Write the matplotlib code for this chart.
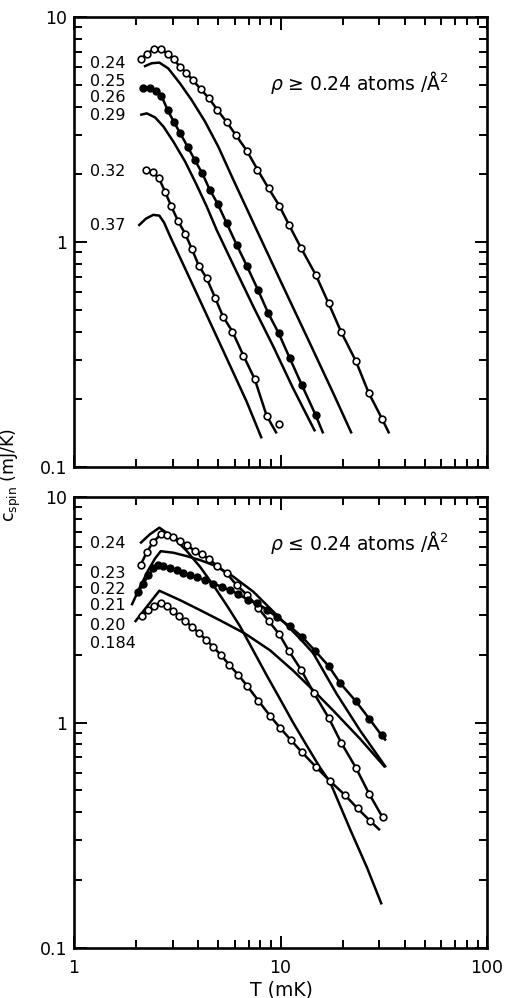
import matplotlib
matplotlib.use("Agg")
import matplotlib.pyplot as plt
from matplotlib.ticker import LogLocator, NullFormatter, FixedLocator, FixedFormatter

plt.rcParams['font.family'] = ['DejaVu Sans']
plt.rcParams['mathtext.fontset'] = 'dejavusans'

# ---------------- top panel (rho >= 0.24) ----------------
t024_T = [2.10, 2.25, 2.44, 2.65, 2.84, 3.04, 3.26, 3.49, 3.76, 4.11, 4.49, 4.95, 5.49,
          6.09, 6.86, 7.73, 8.76, 9.87, 11.0, 12.6, 14.8, 17.1, 19.7, 23.2, 26.7, 31.0]
t024_c = [6.48, 6.85, 7.21, 7.21, 6.85, 6.48, 6.01, 5.66, 5.25, 4.77, 4.37, 3.86, 3.41,
          2.98, 2.55, 2.10, 1.73, 1.45, 1.19, 0.937, 0.716, 0.534, 0.397, 0.295, 0.214, 0.164]
t024_tail_T = [33.6]
t024_tail_c = [0.141]

t025_T = [2.18, 2.38, 2.59, 2.86, 3.26, 3.71, 4.31, 5.0, 5.91, 7.67, 9.95, 13.4, 18.0, 22.1]
t025_c = [6.02, 6.23, 6.27, 5.91, 5.07, 4.28, 3.43, 2.65, 1.89, 1.13, 0.678, 0.380, 0.213, 0.141]

t026_T = [2.17, 2.33, 2.50, 2.65, 2.84, 3.04, 3.27, 3.55, 3.85, 4.18, 4.54, 4.96, 5.49,
          6.14, 6.86, 7.78, 8.73, 9.80, 11.1, 12.7, 14.8]
t026_c = [4.82, 4.82, 4.71, 4.47, 3.86, 3.43, 3.04, 2.65, 2.31, 2.02, 1.71, 1.48, 1.21,
          0.970, 0.785, 0.612, 0.482, 0.393, 0.304, 0.231, 0.170]
t026_tail_T = [16.1]
t026_tail_c = [0.141]

t029_T = [2.09, 2.25, 2.47, 2.71, 3.03, 3.45, 3.93, 4.39, 4.91, 5.91, 7.39, 9.23, 11.5, 14.7]
t029_c = [3.67, 3.73, 3.58, 3.26, 2.79, 2.28, 1.79, 1.44, 1.13, 0.790, 0.516, 0.343, 0.224, 0.144]

t032_T = [2.22, 2.40, 2.58, 2.77, 2.96, 3.19, 3.45, 3.73, 4.02, 4.39, 4.82, 5.27, 5.85,
          6.61, 7.50, 8.57, 9.80]
t032_c = [2.09, 2.05, 1.92, 1.66, 1.44, 1.24, 1.09, 0.928, 0.785, 0.690, 0.566, 0.466,
          0.400, 0.313, 0.246, 0.169, 0.155]
t032_line_T = [2.22, 2.40, 2.58, 2.77, 2.96, 3.19, 3.45, 3.73, 4.02, 4.39, 4.82, 5.27, 5.85,
               6.61, 7.50, 8.57, 9.58]
t032_line_c = [2.09, 2.05, 1.92, 1.66, 1.44, 1.24, 1.09, 0.928, 0.785, 0.690, 0.566, 0.466,
               0.400, 0.313, 0.246, 0.169, 0.141]

t037_T = [2.05, 2.23, 2.42, 2.59, 2.73, 2.92, 3.51, 4.39, 5.49, 6.86, 8.11]
t037_c = [1.18, 1.27, 1.32, 1.31, 1.22, 1.06, 0.738, 0.474, 0.304, 0.195, 0.134]

top_labels = ['0.24', '0.25', '0.26', '0.29', '0.32', '0.37']
top_label_y = [63, 81, 97, 116, 172, 226]

# ---------------- bottom panel (rho <= 0.24) ----------------
b024_T = [2.09, 2.33, 2.59, 3.03, 3.51, 4.08, 4.73, 5.49, 6.37, 7.39, 8.57, 9.95, 11.5,
          13.4, 15.5, 17.4, 21.7, 26.2, 30.9]
b024_c = [6.23, 6.83, 7.31, 6.62, 5.77, 4.90, 4.06, 3.31, 2.67, 2.08, 1.62, 1.27, 1.00,
          0.790, 0.633, 0.543, 0.337, 0.228, 0.156]

b023_T = [2.10, 2.25, 2.42, 2.65, 2.83, 3.03, 3.26, 3.54, 3.85, 4.15, 4.51, 4.95, 5.49,
          6.14, 6.91, 7.78, 8.76, 9.87, 11.0, 12.6, 14.5, 17.1, 19.7, 23.2, 26.9, 31.2]
b023_c = [4.99, 5.68, 6.33, 6.85, 6.78, 6.62, 6.38, 6.12, 5.75, 5.56, 5.30, 4.94, 4.58,
          4.06, 3.67, 3.23, 2.82, 2.46, 2.07, 1.71, 1.35, 1.05, 0.812, 0.629, 0.482, 0.380]

bA_T = [1.90, 2.09, 2.29, 2.47, 2.63, 3.03, 3.51, 4.08, 4.73, 5.69, 7.39, 9.58, 12.4,
        14.4, 18.7, 24.3, 32.4]
bA_c = [3.31, 4.00, 4.74, 5.34, 5.75, 5.66, 5.47, 5.25, 4.99, 4.55, 3.80, 3.00, 2.36,
        2.03, 1.34, 0.921, 0.633]

b022_T = [2.05, 2.17, 2.29, 2.42, 2.56, 2.71, 2.92, 3.14, 3.38, 3.65, 3.93, 4.31, 4.73,
          5.19, 5.69, 6.25, 6.99, 7.67, 8.57, 9.58, 11.1, 12.7, 14.7, 17.1, 19.4, 23.2,
          26.9, 30.9]
b022_c = [3.80, 4.13, 4.50, 4.82, 4.99, 4.94, 4.82, 4.74, 4.61, 4.50, 4.40, 4.28, 4.13,
          4.00, 3.86, 3.71, 3.49, 3.39, 3.17, 2.94, 2.67, 2.40, 2.08, 1.78, 1.50, 1.24,
          1.04, 0.876]
b022_tail_T = [32.4]
b022_tail_c = [0.832]

bB_T = [1.97, 2.25, 2.59, 3.26, 4.08, 5.09, 6.73, 8.90, 11.5, 14.4, 18.0, 24.3, 32.1]
bB_c = [2.79, 3.26, 3.84, 3.49, 3.15, 2.84, 2.48, 2.09, 1.70, 1.39, 1.13, 0.846, 0.633]

b0184_T = [2.13, 2.27, 2.44, 2.63, 2.81, 3.00, 3.22, 3.46, 3.73, 4.02, 4.36, 4.73, 5.15,
           5.65, 6.23, 6.91, 7.81, 8.90, 9.95, 11.2, 12.7, 14.9, 17.4, 20.5, 23.6, 27.1]
b0184_c = [2.96, 3.15, 3.29, 3.40, 3.28, 3.13, 2.97, 2.82, 2.65, 2.50, 2.33, 2.16, 1.99,
           1.80, 1.63, 1.45, 1.25, 1.07, 0.947, 0.838, 0.738, 0.633, 0.549, 0.477, 0.416,
           0.367]
b0184_tail_T = [30.3]
b0184_tail_c = [0.333]

bot_labels = ['0.24', '0.23', '0.22', '0.21', '0.20', '0.184']
bot_label_y = [543, 574, 589, 606, 625, 644]

xticks = [1, 10, 100]
xtick_labels = ['1', '10', '100']
yticks = [0.1, 1, 10]
ytick_labels = ['0.1', '1', '10']

# ---------------- figure ----------------
W, H = 511, 998
fig = plt.figure(figsize=(W / 100, H / 100), dpi=100)
fig.patch.set_facecolor('white')

def px_axes(l, t, r, b):
    return fig.add_axes([l / W, 1 - b / H, (r - l) / W, (b - t) / H])

ax1 = px_axes(74, 17, 487, 467)
ax2 = px_axes(74, 497, 487, 948)

LW = 1.8
MS = 4.8
def line(ax, T, c):
    ax.plot(T, c, '-', color='black', lw=LW, solid_capstyle='butt',
            solid_joinstyle='round', zorder=2)

def pts(ax, T, c, filled):
    ax.plot(T, c, 'o', ms=MS, mew=1.2, mec='black',
            mfc='black' if filled else 'white', zorder=3)

# top panel
line(ax1, t024_T + t024_tail_T, t024_c + t024_tail_c)
pts(ax1, t024_T, t024_c, False)
line(ax1, t025_T, t025_c)
line(ax1, t026_T + t026_tail_T, t026_c + t026_tail_c)
pts(ax1, t026_T, t026_c, True)
line(ax1, t029_T, t029_c)
line(ax1, t032_line_T, t032_line_c)
pts(ax1, t032_T, t032_c, False)
line(ax1, t037_T, t037_c)

# bottom panel
line(ax2, b024_T, b024_c)
line(ax2, b023_T, b023_c)
pts(ax2, b023_T, b023_c, False)
line(ax2, bA_T, bA_c)
line(ax2, b022_T + b022_tail_T, b022_c + b022_tail_c)
pts(ax2, b022_T, b022_c, True)
line(ax2, bB_T, bB_c)
line(ax2, b0184_T + b0184_tail_T, b0184_c + b0184_tail_c)
pts(ax2, b0184_T, b0184_c, False)

for ax in (ax1, ax2):
    ax.set_xscale('log')
    ax.set_yscale('log')
    ax.set_xlim(1, 100)
    ax.set_ylim(0.1, 10)
    ax.xaxis.set_major_locator(FixedLocator(xticks))
    ax.yaxis.set_major_locator(FixedLocator(yticks))
    ax.xaxis.set_minor_locator(LogLocator(base=10, subs=range(2, 10)))
    ax.yaxis.set_minor_locator(LogLocator(base=10, subs=range(2, 10)))
    ax.xaxis.set_minor_formatter(NullFormatter())
    ax.yaxis.set_minor_formatter(NullFormatter())
    ax.yaxis.set_major_formatter(FixedFormatter(ytick_labels))
    ax.tick_params(which='both', direction='in', top=True, right=True, width=1.4,
                   labelsize=12.5, pad=5)
    ax.tick_params(which='major', length=9)
    ax.tick_params(which='minor', length=5.5)
    for s in ax.spines.values():
        s.set_linewidth(1.9)

ax1.xaxis.set_major_formatter(NullFormatter())
ax2.xaxis.set_major_formatter(FixedFormatter(xtick_labels))
ax2.tick_params(axis='x', pad=8)

def lab(y_px, text):
    fig.text(90 / W, 1 - y_px / H, text, fontsize=11.5, ha='left', va='center')

for s, y in zip(top_labels, top_label_y):
    lab(y, s)
for s, y in zip(bot_labels, bot_label_y):
    lab(y, s)

fig.text(270 / W, 1 - 82 / H, r'$\rho$ ≥ 0.24 atoms /Å$^2$', fontsize=13.5,
         ha='left', va='center')
fig.text(270 / W, 1 - 543 / H, r'$\rho$ ≤ 0.24 atoms /Å$^2$', fontsize=13.5,
         ha='left', va='center')

fig.text(11 / W, 1 - 475 / H, r'c$_{\rm spin}$ (mJ/K)', fontsize=12.5, rotation=90,
         ha='center', va='center')
fig.text(281 / W, 1 - 990 / H, 'T (mK)', fontsize=13.5, ha='center', va='center')

fig.savefig('out.png', dpi=100, facecolor='white')
